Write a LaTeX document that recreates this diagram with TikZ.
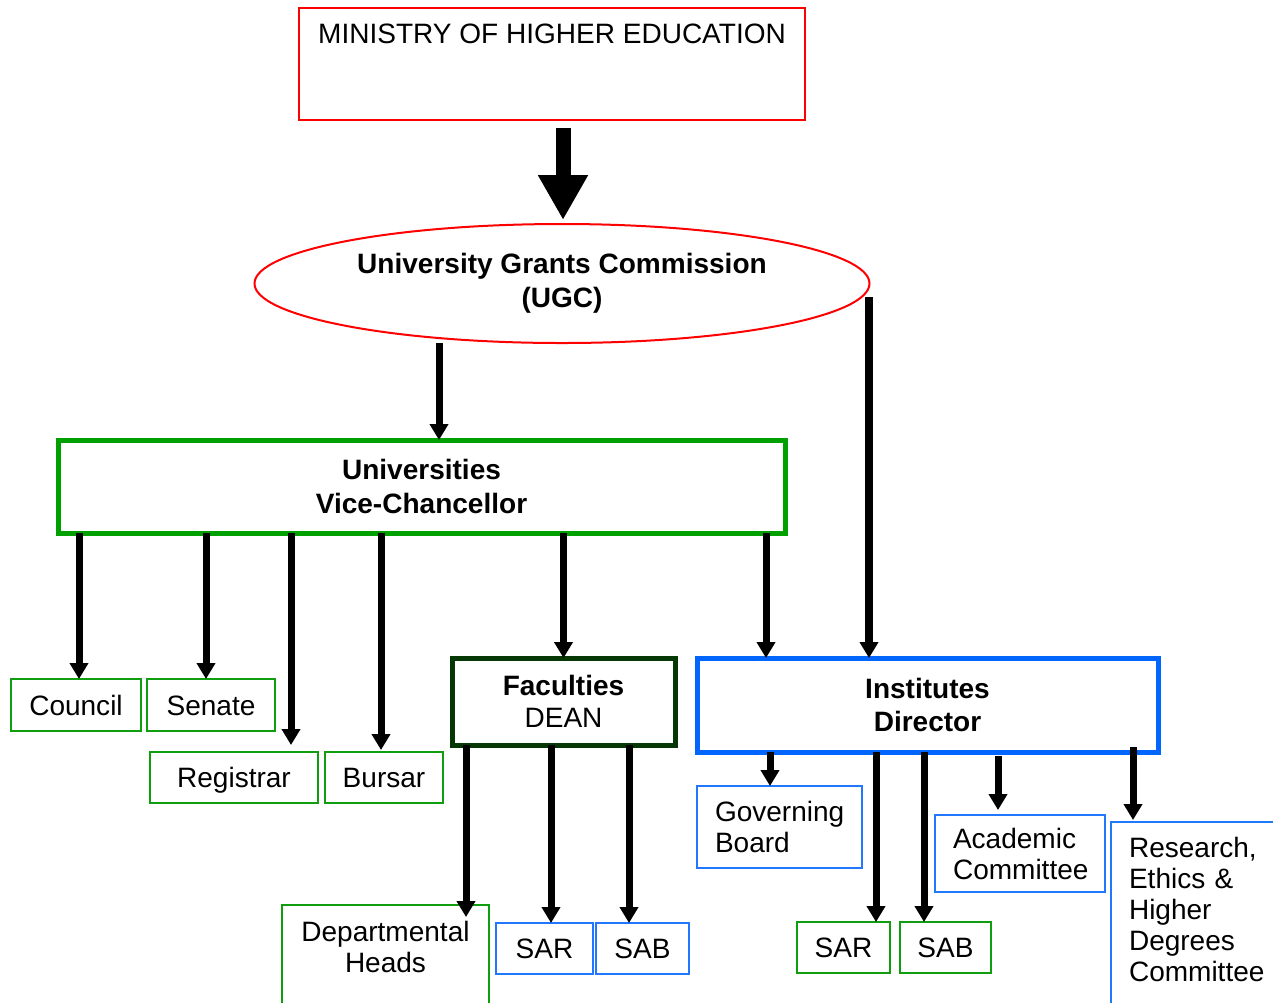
\documentclass[tikz,border=0pt]{standalone}
\usepackage{fontspec}
\setmainfont{Liberation Sans}
\usetikzlibrary{shapes.geometric,arrows.meta}
\newlength\pu \setlength\pu{0.02cm}
\definecolor{cred}{HTML}{FF0000}
\definecolor{cgreen}{HTML}{00A000}
\definecolor{cgreenthin}{HTML}{109E10}
\definecolor{cdark}{HTML}{063806}
\definecolor{cblue}{HTML}{0066FF}
\definecolor{cbluethin}{HTML}{2277FF}
\begin{document}
\begin{tikzpicture}[x=0.02cm,y=-0.02cm,
  base/.style={inner sep=0pt, outer sep=0pt, font=\fontsize{15.95pt}{17.6pt}\selectfont, text=black, align=center},
  thinbox/.style={base, draw, line width=2\pu},
  single/.style={text height=11.4pt, text depth=0pt},
  thickbox/.style={base, draw, line width=5\pu, font=\fontsize{15.95pt}{19.3pt}\selectfont},
  arr/.style={line width=7\pu, -{Triangle[width=0.36cm,length=0.32cm]}},
  bigarr/.style={line width=15\pu, -{Triangle[width=0.94cm,length=0.9cm]}}]
\useasboundingbox (0,0) rectangle (1273,1002);

% top
\node[thinbox, draw=cred, anchor=north, minimum width=506\pu, text height=35\pu, text depth=77\pu] (min) at (552,8) {MINISTRY OF HIGHER EDUCATION};
\node[base, ellipse, draw=cred, line width=2\pu, minimum width=615\pu, minimum height=119\pu, font=\fontsize{15.95pt}{19.3pt}\selectfont] (ugc) at (562,283.5) {\textbf{University Grants Commission}\\\textbf{(UGC)}};

% main boxes
\node[thickbox, draw=cgreen, minimum width=727\pu, minimum height=93\pu] (univ) at (421.5,486.5) {\textbf{Universities}\\\textbf{Vice-Chancellor}};
\node[thickbox, draw=cdark, minimum width=223\pu, minimum height=87\pu, font=\fontsize{15.95pt}{18.2pt}\selectfont] (fac) at (563.5,701.5) {\textbf{Faculties}\\DEAN};
\node[thickbox, draw=cblue, minimum width=461\pu, minimum height=94\pu, font=\fontsize{15.95pt}{18.7pt}\selectfont] (inst) at (927.5,705) {\textbf{Institutes}\\\textbf{Director}};

% university children
\node[thinbox, single, draw=cgreenthin, minimum width=130\pu, minimum height=52\pu] (council) at (76,705) {Council};
\node[thinbox, single, draw=cgreenthin, minimum width=128\pu, minimum height=52\pu] (senate) at (211,705) {Senate};
\node[thinbox, single, draw=cgreenthin, minimum width=168\pu, minimum height=51\pu] (reg) at (234,777.5) {Registrar};
\node[thinbox, single, draw=cgreenthin, minimum width=118\pu, minimum height=51\pu] (bursar) at (384,777.5) {Bursar};

% faculty children
\node[thinbox, draw=cgreenthin, anchor=north, minimum width=207\pu, inner ysep=16\pu] (dept) at (385.5,905) {Departmental\\Heads\\\strut\\\strut};
\node[thinbox, single, draw=cbluethin, minimum width=97\pu, minimum height=51\pu] (sara) at (544.5,948.5) {SAR};
\node[thinbox, single, draw=cbluethin, minimum width=93\pu, minimum height=51\pu] (saba) at (642.5,948.5) {SAB};

% institute children
\node[thinbox, draw=cbluethin, minimum width=165\pu, minimum height=82\pu, inner xsep=18\pu, text width=129\pu, align=left] (gov) at (779.5,827) {Governing\\Board};
\node[thinbox, single, draw=cgreenthin, minimum width=93\pu, minimum height=51\pu] (sarb) at (843.5,947.5) {SAR};
\node[thinbox, single, draw=cgreenthin, minimum width=91\pu, minimum height=51\pu] (sabb) at (945.5,947.5) {SAB};
\node[thinbox, draw=cbluethin, minimum width=170\pu, minimum height=77\pu, inner xsep=18\pu, text width=134\pu, align=left] (acad) at (1020,853.5) {Academic\\Committee};
\node[thinbox, draw=cbluethin, anchor=north west, inner xsep=18\pu, inner ysep=15\pu, text width=180\pu, align=left] (res) at (1111,822) {Research,\\Ethics \&\\Higher\\Degrees\\Committee\\\strut\\\strut};

% connectors
\coordinate (t0) at ([xshift=11\pu]min.south);
\draw[bigarr, shorten <=8\pu, shorten >=4\pu] (t0) -- (t0 |- ugc.north);

\coordinate (t1) at ([xshift=17.5\pu]univ.north);
\draw[arr] (t1 |- ugc.south) -- (t1);
\coordinate (t2) at ([xshift=-58.5\pu]inst.north);
\draw[arr, line width=8\pu, shorten <=13.5\pu] (t2 |- ugc.east) -- (t2);

\coordinate (c1) at ([xshift=3\pu]council.north);
\draw[arr] (univ.south -| c1) -- (c1);
\coordinate (c2) at ([xshift=-5\pu]senate.north);
\draw[arr] (univ.south -| c2) -- (c2);
\coordinate (c3) at ([xshift=57\pu]reg.north);
\draw[arr, shorten >=7\pu] (univ.south -| c3) -- (c3);
\coordinate (c4) at ([xshift=-3\pu]bursar.north);
\draw[arr, shorten >=2\pu] (univ.south -| c4) -- (c4);
\coordinate (c5) at (fac.north);
\draw[arr] (univ.south -| c5) -- (c5);
\coordinate (c6) at ([xshift=-161.5\pu]inst.north);
\draw[arr] (univ.south -| c6) -- (c6);

\coordinate (d1) at ([xshift=80.5\pu]dept.north);
\draw[arr, shorten >=-12\pu] (fac.south -| d1) -- (d1);
\coordinate (d2) at ([xshift=6.5\pu]sara.north);
\draw[arr] (fac.south -| d2) -- (d2);
\coordinate (d3) at ([xshift=-13.5\pu]saba.north);
\draw[arr] (fac.south -| d3) -- (d3);

\coordinate (e1) at ([xshift=-9.5\pu]gov.north);
\draw[arr] (inst.south -| e1) -- (e1);
\coordinate (e2) at ([xshift=32.5\pu]sarb.north);
\draw[arr] (inst.south -| e2) -- (e2);
\coordinate (e3) at ([xshift=-21.5\pu]sabb.north);
\draw[arr] (inst.south -| e3) -- (e3);
\coordinate (e4) at ([xshift=-22\pu]acad.north);
\draw[arr, shorten <=4\pu, shorten >=5\pu] (inst.south -| e4) -- (e4);
\coordinate (e5) at ([xshift=22\pu]res.north west);
\draw[arr, shorten <=-5\pu, shorten >=2\pu] (inst.south -| e5) -- (e5);
\end{tikzpicture}
\end{document}
